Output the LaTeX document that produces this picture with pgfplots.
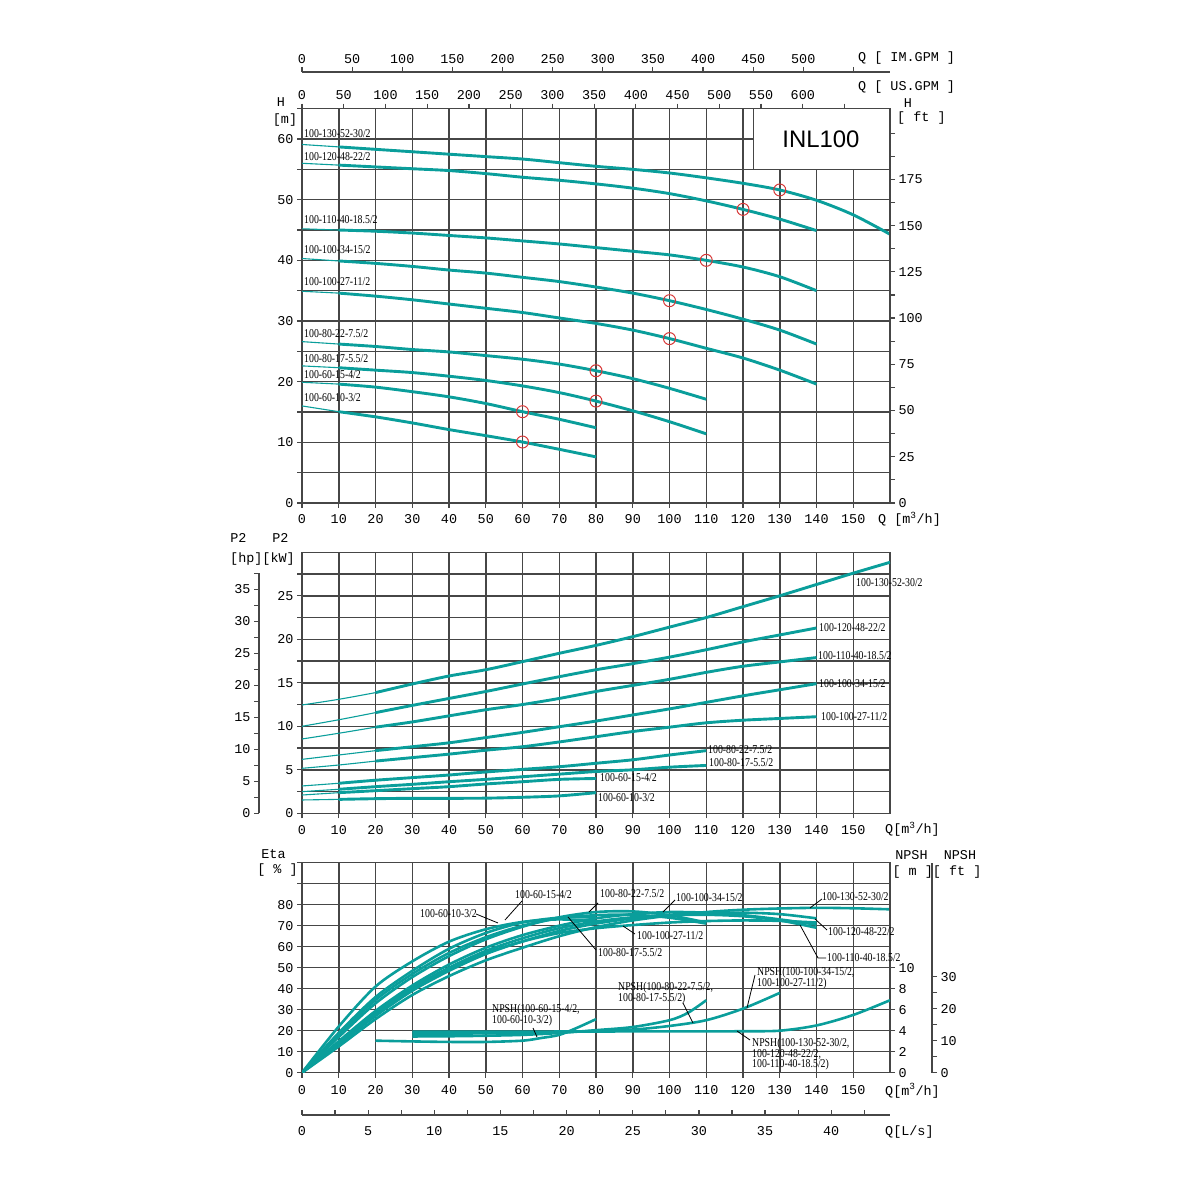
\documentclass[border=0pt]{standalone}
\usepackage{pgfplots}
\pgfplotsset{compat=1.18}
\usepackage{fontspec}
\setmainfont{Liberation Serif}
\newfontfamily\tickfont{Liberation Mono}
\newfontfamily\lblfont[FakeStretch=0.82]{Liberation Serif}
\newfontfamily\sansfont{Liberation Sans}
\definecolor{teal1}{RGB}{10,158,155}
\definecolor{gridc}{RGB}{70,70,70}
\definecolor{redc}{RGB}{215,55,55}
\newcommand\tf{\tickfont\fontsize{13.5}{14}\selectfont}
\newcommand\lf{\lblfont\fontsize{12}{12}\selectfont}
\pgfplotsset{
  base/.style={scale only axis, width=588bp, xmin=0, xmax=160,
    axis line style={gridc, line width=1.5bp},
    tick style={gridc, line width=1.2bp},
    major tick length=5bp, minor tick length=5bp,
    tick align=outside,
    grid style={gridc, line width=1.5bp},
    minor grid style={gridc, line width=1.5bp},
    tick label style={font=\tf, text=black},
    /pgf/number format/assume math mode=true},
  thk/.style={teal1, line width=2.9bp, smooth},
  thn/.style={teal1, line width=1.1bp, smooth},
  eta/.style={teal1, line width=2.6bp, smooth},
}
\begin{document}
\begin{tikzpicture}
\useasboundingbox (0,0) rectangle (1200bp,1200bp);

% ================= TOP PANEL: H =================
\begin{axis}[base, at={(302bp,697bp)}, anchor=south west, height=394.3bp,
  ymin=0, ymax=65, xtick={0,10,...,150}, ytick={0,10,...,60}, minor ytick={5,15,...,65},
  grid=both, xtick pos=left, ytick pos=left, xticklabel style={yshift=-3bp}]
\fill[white] (axis cs:122.8,55) rectangle (axis cs:160,65);
\draw[gridc, line width=1.5bp] (axis cs:122.8,65) -- (axis cs:122.8,55) -- (axis cs:160,55) -- (axis cs:160,65) -- cycle;
\node[font=\sansfont\fontsize{24}{24}\selectfont] at (axis cs:141.2,60) {INL100};
\addplot[thn] coordinates {(0,59.1)(10,58.7)};
\addplot[thk] coordinates {(10,58.7)(20,58.3)(30,57.9)(40,57.5)(50,57.1)(60,56.7)(70,56.1)(80,55.5)(90,55.0)(100,54.4)(110,53.6)(120,52.7)(130,51.6)(140,49.9)(150,47.5)(160,44.3)};
\addplot[thn] coordinates {(0,56.0)(10,55.7)};
\addplot[thk] coordinates {(10,55.7)(20,55.4)(30,55.1)(40,54.8)(50,54.3)(60,53.7)(70,53.2)(80,52.6)(90,51.9)(100,51.0)(110,49.8)(120,48.4)(130,46.8)(140,44.9)};
\addplot[thn] coordinates {(0,45.2)(10,45.0)};
\addplot[thk] coordinates {(10,45.0)(20,44.8)(30,44.5)(40,44.1)(50,43.7)(60,43.2)(70,42.7)(80,42.1)(90,41.5)(100,40.9)(110,40.0)(120,38.9)(130,37.3)(140,35.0)};
\addplot[thn] coordinates {(0,40.3)(10,39.9)};
\addplot[thk] coordinates {(10,39.9)(20,39.5)(30,39.0)(40,38.4)(50,37.9)(60,37.2)(70,36.5)(80,35.6)(90,34.6)(100,33.35)(110,31.9)(120,30.3)(130,28.5)(140,26.2)};
\addplot[thn] coordinates {(0,34.9)(10,34.6)};
\addplot[thk] coordinates {(10,34.6)(20,34.1)(30,33.5)(40,32.8)(50,32.1)(60,31.4)(70,30.5)(80,29.6)(90,28.5)(100,27.1)(110,25.5)(120,23.9)(130,21.9)(140,19.6)};
\addplot[thn] coordinates {(0,26.6)(10,26.2)};
\addplot[thk] coordinates {(10,26.2)(20,25.8)(30,25.3)(40,24.9)(50,24.3)(60,23.7)(70,22.9)(80,21.8)(90,20.5)(100,18.9)(110,17.1)};
\addplot[thn] coordinates {(0,22.6)(10,22.3)};
\addplot[thk] coordinates {(10,22.3)(20,21.9)(30,21.5)(40,20.9)(50,20.2)(60,19.3)(70,18.2)(80,16.8)(90,15.2)(100,13.4)(110,11.4)};
\addplot[thn] coordinates {(0,19.9)(10,19.6)};
\addplot[thk] coordinates {(10,19.6)(20,19.1)(30,18.35)(40,17.5)(50,16.4)(60,15.05)(70,13.8)(80,12.4)};
\addplot[thn] coordinates {(0,16.0)(10,15.05)};
\addplot[thk] coordinates {(10,15.05)(20,14.2)(30,13.2)(40,12.1)(50,11.1)(60,10.05)(70,8.85)(80,7.6)};
\addplot[only marks, mark=o, mark size=6bp, redc, line width=1bp] coordinates {(130,51.6)(120,48.4)(110,40.0)(100,33.35)(100,27.1)(80,21.8)(80,16.8)(60,15.05)(60,10.05)};
\end{axis}
% right ft axis
\begin{axis}[base, at={(302bp,697bp)}, anchor=south west, height=394.3bp,
  ymin=0, ymax=213.25, axis y line*=right, hide x axis,
  ytick={0,25,...,200}, yticklabels={0,25,50,75,100,125,150,175,},
  minor ytick={12.5,37.5,...,187.5}]
\end{axis}
% US GPM axis
\begin{axis}[base, at={(302bp,697bp)}, anchor=south west, height=394.3bp,
  xmin=0, xmax=704.48, ymin=0, ymax=1, axis x line*=top, hide y axis,
  xtick={0,50,...,650}, xticklabels={0,50,100,150,200,250,300,350,400,450,500,550,600,},
  xticklabel style={yshift=1bp}]
\end{axis}
% IM GPM axis
\begin{axis}[base, at={(302bp,1127bp)}, anchor=south west, height=1bp,
  xmin=0, xmax=586.56, ymin=0, ymax=1, axis x line*=top, hide y axis,
  xtick={0,50,...,550}, xticklabels={0,50,100,150,200,250,300,350,400,450,500,}]
\end{axis}

% ================= MIDDLE PANEL: P2 =================
\begin{axis}[base, at={(302bp,386.7bp)}, anchor=south west, height=261bp,
  ymin=0, ymax=30, xtick={0,10,...,150}, ytick={0,5,...,25}, minor ytick={2.5,7.5,...,27.5},
  grid=both, xtick pos=left, ytick pos=left, xticklabel style={yshift=-4bp}]
\addplot[thn] coordinates {(0,12.45)(10,13.1)(20,13.87)};
\addplot[thk] coordinates {(20,13.87)(30,14.86)(40,15.78)(50,16.5)(60,17.43)(70,18.39)(80,19.3)(90,20.3)(100,21.4)(110,22.5)(120,23.75)(130,25.0)(140,26.3)(150,27.6)(160,28.85)};
\addplot[thn] coordinates {(0,10.0)(10,10.75)(20,11.57)};
\addplot[thk] coordinates {(20,11.57)(30,12.4)(40,13.2)(50,14.0)(60,14.86)(70,15.7)(80,16.5)(90,17.2)(100,17.95)(110,18.8)(120,19.7)(130,20.5)(140,21.3)};
\addplot[thn] coordinates {(0,8.54)(10,9.2)(20,9.9)};
\addplot[thk] coordinates {(20,9.9)(30,10.5)(40,11.2)(50,11.9)(60,12.5)(70,13.2)(80,14.0)(90,14.7)(100,15.4)(110,16.2)(120,16.9)(130,17.4)(140,17.9)};
\addplot[thn] coordinates {(0,6.2)(10,6.7)(20,7.2)};
\addplot[thk] coordinates {(20,7.2)(30,7.65)(40,8.1)(50,8.7)(60,9.3)(70,9.95)(80,10.6)(90,11.3)(100,12.0)(110,12.75)(120,13.5)(130,14.2)(140,14.9)};
\addplot[thn] coordinates {(0,5.17)(10,5.55)(20,6.0)};
\addplot[thk] coordinates {(20,6.0)(30,6.4)(40,6.8)(50,7.25)(60,7.65)(70,8.2)(80,8.8)(90,9.4)(100,9.9)(110,10.4)(120,10.7)(130,10.9)(140,11.1)};
\addplot[thn] coordinates {(0,3.14)(10,3.45)};
\addplot[thk] coordinates {(10,3.45)(20,3.8)(30,4.1)(40,4.4)(50,4.75)(60,5.05)(70,5.35)(80,5.75)(90,6.15)(100,6.7)(110,7.2)};
\addplot[thn] coordinates {(0,2.49)(10,2.76)};
\addplot[thk] coordinates {(10,2.76)(20,3.06)(30,3.33)(40,3.63)(50,3.9)(60,4.2)(70,4.5)(80,4.8)(90,5.0)(100,5.3)(110,5.5)};
\addplot[thn] coordinates {(0,2.1)(10,2.37)};
\addplot[thk] coordinates {(10,2.37)(20,2.6)(30,2.83)(40,3.06)(50,3.37)(60,3.63)(70,3.9)(80,4.0)};
\addplot[thn] coordinates {(0,1.53)(10,1.6)};
\addplot[thk] coordinates {(10,1.6)(20,1.68)(30,1.72)(40,1.72)(50,1.74)(60,1.84)(70,2.0)(80,2.37)};
\end{axis}
% hp axis
\begin{axis}[base, at={(259bp,386.7bp)}, anchor=south west, width=1bp, height=239.9bp,
  xmin=0, xmax=1, ymin=0, ymax=37.5, axis y line*=left, hide x axis,
  ytick={0,5,...,35}, minor ytick={2.5,7.5,...,37.5}]
\end{axis}

% ================= BOTTOM PANEL: Eta / NPSH =================
\begin{axis}[base, at={(302bp,127.3bp)}, anchor=south west, height=210bp,
  ymin=0, ymax=100, xtick={0,10,...,150}, ytick={0,10,...,100},
  yticklabels={0,10,20,30,40,50,60,70,80,,},
  grid=major, xtick pos=left, ytick pos=left, xticklabel style={yshift=-4bp}]
\addplot[eta] coordinates {(0,0)(10,22)(20,41)(30,53)(40,62.4)(50,68.3)(60,71.8)(70,73)(80,72)};
\addplot[eta] coordinates {(0,0)(10,19)(20,36)(30,48.5)(40,59)(50,66.5)(60,71.5)(70,73.8)(80,74)};
\addplot[eta] coordinates {(0,0)(10,17)(20,33)(30,45.5)(40,55.5)(50,63.5)(60,69.5)(70,74)(80,76.5)(90,76.8)(100,75)(110,71.5)};
\addplot[eta] coordinates {(0,0)(10,18)(20,34.6)(30,47)(40,57)(50,64.5)(60,70)(70,73.5)(80,75)(90,75.2)(100,73.8)(110,71)};
\addplot[eta] coordinates {(0,0)(10,15)(20,29.4)(30,41.5)(40,51.5)(50,59.5)(60,65.5)(70,70)(80,73.5)(90,75.5)(100,76.5)(110,76.2)(120,75)(130,73)(140,70.5)};
\addplot[eta] coordinates {(0,0)(10,14)(20,28)(30,40)(40,49.5)(50,57)(60,62.5)(70,66.5)(80,68.8)(90,70.3)(100,71.5)(110,72.2)(120,72.5)(130,72.3)(140,71.5)};
\addplot[eta] coordinates {(0,0)(10,14.5)(20,28.3)(30,40.5)(40,50)(50,58)(60,64)(70,68.8)(80,72)(90,74)(100,75)(110,75.2)(120,74.5)(130,72.5)(140,69)};
\addplot[eta] coordinates {(0,0)(10,13.5)(20,27)(30,39)(40,48.5)(50,56.5)(60,62.5)(70,67.5)(80,71)(90,73.5)(100,75.2)(110,76)(120,76.2)(130,75.5)(140,73.5)};
\addplot[eta] coordinates {(0,0)(10,12.5)(20,25.5)(30,37)(40,46)(50,53.5)(60,59.5)(70,65)(80,69.3)(90,72.5)(100,74.8)(110,76.5)(120,77.6)(130,78.2)(140,78.5)(150,78.3)(160,77.8)};
\end{axis}
% NPSH m axis
\begin{axis}[base, at={(302bp,127.3bp)}, anchor=south west, height=210bp,
  ymin=0, ymax=20, axis y line*=right, hide x axis, ytick={0,2,...,10}]
\addplot[eta] coordinates {(20,3.05)(30,2.98)(40,2.93)(50,2.93)(60,3.05)(65,3.3)(70,3.6)(75,4.3)(80,5.1)};
\addplot[eta] coordinates {(30,3.45)(40,3.47)(50,3.52)(60,3.6)(70,3.78)(80,4.05)(90,4.35)(100,5.0)(105,5.7)(110,6.9)};
\addplot[eta] coordinates {(30,3.7)(40,3.72)(50,3.75)(60,3.8)(70,3.87)(80,3.97)(90,4.1)(100,4.45)(110,5.0)(120,6.1)(130,7.6)};
\addplot[eta] coordinates {(30,3.9)(50,3.9)(70,3.92)(90,3.93)(110,3.93)(120,3.95)(130,4.0)(140,4.5)(150,5.5)(160,6.9)};
\end{axis}
% NPSH ft axis
\begin{axis}[base, at={(931bp,127.3bp)}, anchor=south west, width=1bp, height=210bp,
  xmin=0, xmax=1, ymin=0, ymax=65.617, axis y line*=right, hide x axis,
  ytick={0,10,20,30}, minor ytick={5,15,25}]
\end{axis}
% L/s axis
\begin{axis}[base, at={(302bp,85bp)}, anchor=south west, height=1bp,
  xmin=0, xmax=44.444, ymin=0, ymax=1, axis x line*=bottom, hide y axis,
  xtick={0,5,...,40}, minor xtick={2.5,7.5,...,42.5}, tick align=inside,
  xticklabel style={yshift=-8bp}]
\end{axis}

% ================= TEXT ANNOTATIONS (pixel coordinates) =================
\begin{scope}[x=1bp, y=-1bp, yshift=1200bp]
% axis titles
\node[font=\tf, anchor=west, inner sep=0] at (858,58) {Q [ IM.GPM ]};
\node[font=\tf, anchor=west, inner sep=0] at (858,86.7) {Q [ US.GPM ]};
\node[font=\tf, inner sep=0] at (908,103) {H};
\node[font=\tf, anchor=west, inner sep=0] at (897,118.3) {[ ft ]};
\node[font=\tf, inner sep=0] at (281,102) {H};
\node[font=\tf, inner sep=0] at (285,120) {[m]};
\node[font=\tf, anchor=west, inner sep=0] at (878,519) {Q [m\textsuperscript{3}/h]};
\node[font=\tf, inner sep=0] at (238.5,538) {P2};
\node[font=\tf, inner sep=0] at (280.5,538) {P2};
\node[font=\tf, inner sep=0] at (262.5,559) {[hp][kW]};
\node[font=\tf, anchor=west, inner sep=0] at (885,829.3) {Q[m\textsuperscript{3}/h]};
\node[font=\tf, inner sep=0] at (273.5,854) {Eta};
\node[font=\tf, inner sep=0] at (277.5,870) {[ \% ]};
\node[font=\tf, inner sep=0] at (911.5,855) {NPSH};
\node[font=\tf, inner sep=0] at (960,855) {NPSH};
\node[font=\tf, inner sep=0] at (937,871.7) {[ m ][ ft ]};
\node[font=\tf, anchor=west, inner sep=0] at (885,1090.7) {Q[m\textsuperscript{3}/h]};
\node[font=\tf, anchor=west, inner sep=0] at (885,1132.3) {Q[L/s]};
% curve labels
\begin{scope}[every node/.style={font=\lf, anchor=west, inner sep=0}]
\node at (304,133.3) {100-130-52-30/2};
\node at (304,156.7) {100-120-48-22/2};
\node at (304,220) {100-110-40-18.5/2};
\node at (304,249.3) {100-100-34-15/2};
\node at (304,281.7) {100-100-27-11/2};
\node at (304,333.3) {100-80-22-7.5/2};
\node at (304,358.3) {100-80-17-5.5/2};
\node at (304,375) {100-60-15-4/2};
\node at (304,397.7) {100-60-10-3/2};
% middle panel labels
\node at (856,583) {100-130-52-30/2};
\node at (819,627.7) {100-120-48-22/2};
\node at (818,655.7) {100-110-40-18.5/2};
\node at (819,684) {100-100-34-15/2};
\node at (821,716.7) {100-100-27-11/2};
\node at (708,750) {100-80-22-7.5/2};
\node at (709,762.7) {100-80-17-5.5/2};
\node at (600,778) {100-60-15-4/2};
\node at (598,797.3) {100-60-10-3/2};
% bottom panel eta labels
\node at (420,913.3) {100-60-10-3/2};
\node at (515,895) {100-60-15-4/2};
\node at (600,894) {100-80-22-7.5/2};
\node at (676,898) {100-100-34-15/2};
\node at (822,897) {100-130-52-30/2};
\node at (637,936) {100-100-27-11/2};
\node at (598,953) {100-80-17-5.5/2};
\node at (828,932) {100-120-48-22/2};
\node at (827,958) {100-110-40-18.5/2};
% NPSH labels
\node at (492,1010) {NPSH(100-60-15-4/2,};
\node at (492,1021) {100-60-10-3/2)};
\node at (618,988) {NPSH(100-80-22-7.5/2,};
\node at (618,999) {100-80-17-5.5/2)};
\node at (757,973) {NPSH(100-100-34-15/2,};
\node at (757,983.5) {100-100-27-11/2)};
\node at (752,1044) {NPSH(100-130-52-30/2,};
\node at (752,1054.5) {100-120-48-22/2,};
\node at (752,1065) {100-110-40-18.5/2)};
\end{scope}
% pointer lines
\begin{scope}[black, line width=0.8bp]
\draw (476,914) -- (498,923);
\draw (522,901) -- (505,920);
\draw (598,903) -- (589,912);
\draw (675,900) -- (663,912);
\draw (822,899) -- (810,908);
\draw (635,934) -- (623,926);
\draw (596,950) -- (568,917);
\draw (827,930) -- (815,919);
\draw (826,958) -- (818,958) -- (800,925);
\draw (533,1028) -- (537,1037);
\draw (683,1003) -- (693,1023);
\draw (755,975) -- (747,1008);
\draw (750,1040) -- (737,1031);
\end{scope}
\end{scope}
\end{tikzpicture}
\end{document}
